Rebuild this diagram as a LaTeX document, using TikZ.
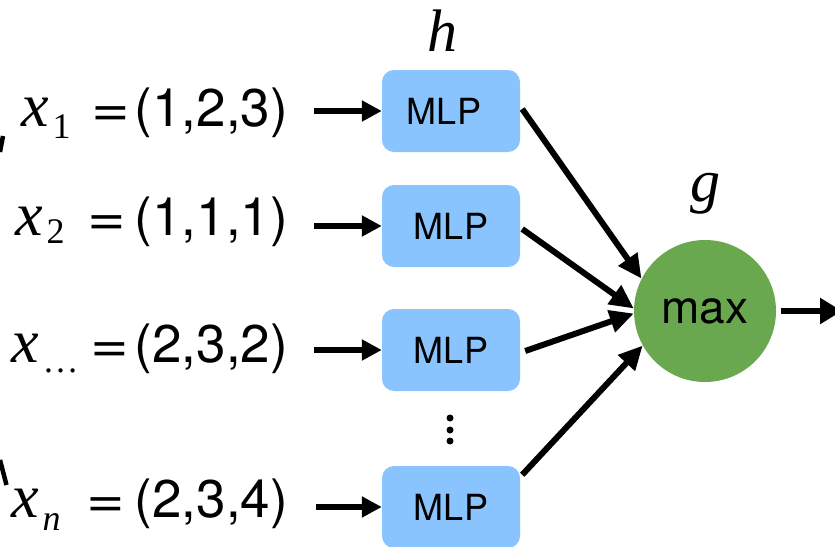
\documentclass[tikz,border=0pt]{standalone}
\usepackage{fontspec}
\setmainfont{TeX Gyre Heros}
\newfontfamily\tms{Liberation Serif}
\usetikzlibrary{arrows.meta}
\definecolor{mlpblue}{RGB}{138,196,255}
\definecolor{maxgreen}{RGB}{106,168,79}
\newcommand\xwithsub[2]{{\tms\itshape x}\kern4pt\raisebox{-#1}{\fontsize{36}{36}\selectfont\tms #2}}
\begin{document}
\begin{tikzpicture}[x=1pt,y=-1pt,
  mlpbox/.style={fill=mlpblue, rounded corners=12pt, minimum width=138pt, minimum height=82pt, inner sep=0pt, font=\fontsize{36}{36}\selectfont},
  maxnode/.style={circle, fill=maxgreen, minimum size=142pt, inner sep=0pt, font=\fontsize{46}{46}\selectfont},
  xlab/.style={anchor=base west, inner sep=0pt, font=\fontsize{62}{62}\selectfont},
  eqlab/.style={anchor=base, inner sep=0pt, font=\fontsize{53}{53}\selectfont},
  veclab/.style={anchor=base west, inner sep=0pt, font=\fontsize{53}{53}\selectfont},
  fname/.style={inner sep=0pt, font=\fontsize{60}{60}\selectfont\tms\itshape},
  arrin/.style={line width=6pt, -{Triangle[length=20pt,width=20pt]}},
  arrc/.style={line width=6pt, -{Triangle[length=24pt,width=22pt]}},
  arrout/.style={line width=6pt, -{Triangle[length=22pt,width=25pt]}},
  frag/.style={line width=4.5pt}
]
\clip (0,0) rectangle (835,546);
\fill[white] (0,0) rectangle (835,546);

% function labels
\node[fname] (h) at (442,31) {h};
\node[fname] (g) at (705,194) {g};

% MLP boxes
\node[mlpbox] (b1) at (451,111) {\hspace*{-14pt}MLP};
\node[mlpbox] (b2) at (451,226) {MLP};
\node[mlpbox] (b3) at (451,350) {MLP};
\node[mlpbox] (b4) at (451,507) {MLP};

% vertical dots
\fill (450,418) circle (3.5pt);
\fill (450,430) circle (3.5pt);
\fill (450,441) circle (3.5pt);

% max node
\node[maxnode] (c) at (705,311) {max};

% input labels
\node[xlab] (x1) at (21,126) {\xwithsub{12pt}{1}};
\node[xlab] (x2) at (15,235) {\xwithsub{8pt}{2}};
\node[xlab] (x3) at (11,362) {\xwithsub{10pt}{\textellipsis}};
\node[xlab] (x4) at (11,517) {\xwithsub{13pt}{\itshape n}};

\node[eqlab] (e1) at (111,126) {\scalebox{1.25}[1]{=}};
\node[eqlab] (e2) at (107,235) {\scalebox{1.25}[1]{=}};
\node[eqlab] (e3) at (110,362) {\scalebox{1.25}[1]{=}};
\node[eqlab] (e4) at (106,517) {\scalebox{1.25}[1]{=}};

\node[veclab] (v1) at (134.5,126) {(1,2,3)};
\node[veclab] (v2) at (134.5,235) {(1,1,1)};
\node[veclab] (v3) at (134.5,362) {(2,3,2)};
\node[veclab] (v4) at (134.5,517) {(2,3,4)};

% input arrows
\coordinate (s1) at (314,111);
\coordinate (s2) at (314,226);
\coordinate (s3) at (314,350);
\coordinate (s4) at (316,507);
\draw[arrin] (s1) -- (b1.west);
\draw[arrin] (s2) -- (b2.west);
\draw[arrin] (s3) -- (b3.west);
\draw[arrin] (s4) -- (b4.west);

% MLP -> max
\draw[arrc] ([shift={(2pt,2pt)}]b1.east) -- (c.153);
\draw[arrc] ([shift={(2pt,-3pt)}]b2.east) -- (c.178);
\draw[arrc] ([shift={(5pt,-1pt)}]b3.east) -- (c.182);
\draw[arrc] ([shift={(2pt,-9pt)}]b4.north east) -- (c.209);

% output
\coordinate (out) at (842,311);
\draw[arrout] ([xshift=5pt]c.east) -- (out);

% fragments at the left edge
\draw[frag] (3,136) -- (0,152);
\draw[frag] (0,460) -- (6.5,485);
\end{tikzpicture}
\end{document}
